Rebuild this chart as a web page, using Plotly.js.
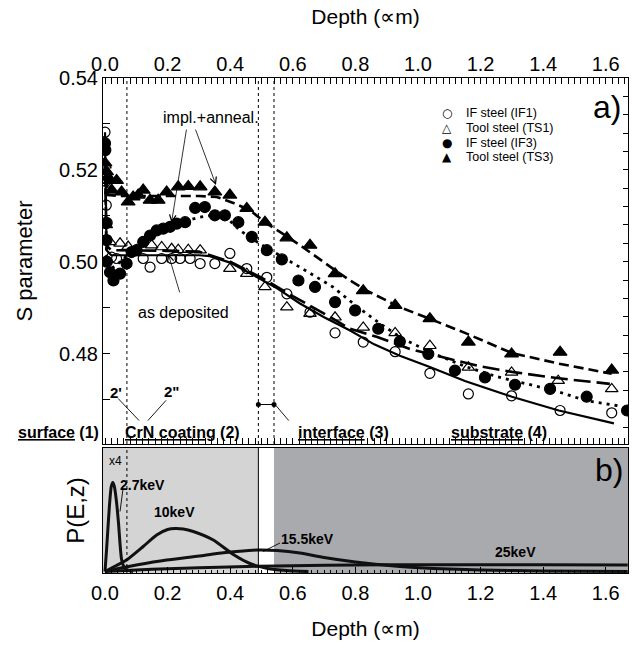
<!DOCTYPE html>
<html><head><meta charset="utf-8">
<script src="https://cdn.plot.ly/plotly-3.0.1.min.js"></script>
<style>html,body{margin:0;padding:0;background:#fff}#chart{width:634px;height:651px}</style>
</head><body><div id="chart"></div>
<script>
// ---------- data: S parameter (top panel) ----------
const depthIF1 = [0,0.002,0.004,0.007,0.021,0.037,0.122,0.144,0.181,0.213,0.240,0.272,0.304,0.351,0.399,0.453,0.517,0.581,0.655,0.735,0.825,0.927,1.038,1.161,1.299,1.454,1.619];
const sIF1     = [0.5282,0.5175,0.5123,0.5085,0.5010,0.5007,0.5007,0.4988,0.5007,0.5007,0.5007,0.5007,0.4996,0.4996,0.5018,0.4985,0.4966,0.4930,0.4890,0.4845,0.4825,0.4804,0.4757,0.4712,0.4708,0.4676,0.4671];

const depthTS1 = [0,0.004,0.016,0.048,0.074,0.149,0.181,0.213,0.234,0.266,0.304,0.399,0.453,0.511,0.581,0.655,0.735,0.825,0.927,1.038,1.161,1.299,1.448,1.619];
const sTS1     = [0.5210,0.5080,0.5043,0.5040,0.5033,0.5036,0.5032,0.5028,0.5026,0.5026,0.5025,0.4985,0.4974,0.4945,0.4901,0.4887,0.4879,0.4857,0.4845,0.4817,0.4770,0.4759,0.4741,0.4723];

const depthIF3 = [0,0.001,0.003,0.005,0.006,0.016,0.027,0.048,0.069,0.085,0.101,0.122,0.144,0.165,0.186,0.208,0.229,0.256,0.288,0.319,0.351,0.383,0.426,0.469,0.517,0.565,0.618,0.671,0.735,0.799,0.873,0.942,1.033,1.118,1.214,1.310,1.422,1.539,1.668];
const sIF3     = [0.5258,0.5243,0.5084,0.5047,0.5000,0.4977,0.4959,0.4974,0.4996,0.5021,0.5025,0.5043,0.5057,0.5068,0.5072,0.5076,0.5083,0.5086,0.5117,0.5119,0.5101,0.5101,0.5086,0.5054,0.5025,0.5005,0.4959,0.4945,0.4912,0.4894,0.4854,0.4826,0.4799,0.4763,0.4748,0.4732,0.4723,0.4706,0.4676];

const depthTS3 = [0,0.005,0.010,0.016,0.021,0.037,0.053,0.074,0.090,0.106,0.122,0.144,0.170,0.197,0.234,0.266,0.304,0.351,0.399,0.453,0.511,0.581,0.655,0.735,0.825,0.927,1.038,1.161,1.299,1.454,1.619];
const sTS3     = [0.5215,0.5196,0.5184,0.5177,0.5156,0.5177,0.5152,0.5130,0.5141,0.5145,0.5156,0.5134,0.5134,0.5152,0.5163,0.5164,0.5163,0.5152,0.5145,0.5116,0.5086,0.5052,0.5036,0.4974,0.4937,0.4905,0.4876,0.4825,0.4799,0.4803,0.4764];

// fitted curves
const fitDepthIF1 = [0,0.005,0.02,0.1,0.2,0.3,0.335,0.4,0.463,0.55,0.623,0.7,0.783,0.86,0.942,1.04,1.15,1.3,1.45,1.626];
const fitIF1      = [0.5282,0.5025,0.5014,0.5014,0.5014,0.5014,0.5012,0.4998,0.4975,0.4942,0.4909,0.4879,0.4850,0.4820,0.4795,0.4770,0.4740,0.4706,0.4676,0.4648];
const fitDepthTS1 = [0,0.005,0.02,0.1,0.2,0.3,0.4,0.5,0.6,0.7,0.783,0.87,0.974,1.102,1.2,1.3,1.45,1.613];
const fitTS1      = [0.5210,0.5035,0.5025,0.5025,0.5024,0.5022,0.5000,0.4965,0.4925,0.4887,0.4854,0.4836,0.4810,0.4788,0.4772,0.4760,0.4746,0.4734];
const fitDepthIF3 = [0,0.005,0.02,0.05,0.1,0.15,0.2,0.25,0.304,0.35,0.39,0.431,0.495,0.569,0.65,0.728,0.8,0.879,0.952,1.05,1.15,1.25,1.35,1.438,1.539,1.65];
const fitIF3      = [0.5258,0.4995,0.4985,0.5000,0.5035,0.5058,0.5075,0.5088,0.5097,0.5102,0.5095,0.5068,0.5039,0.5010,0.4977,0.4945,0.4905,0.4865,0.4832,0.4800,0.4772,0.4750,0.4733,0.4719,0.4697,0.4685];
const fitDepthTS3 = [0,0.01,0.05,0.1,0.2,0.3,0.357,0.41,0.463,0.517,0.57,0.623,0.728,0.783,0.836,0.942,1.04,1.15,1.3,1.45,1.619];
const fitTS3      = [0.5215,0.5145,0.5143,0.5143,0.5143,0.5143,0.5141,0.5128,0.5112,0.5083,0.5060,0.5036,0.4985,0.4959,0.4937,0.4901,0.4875,0.4845,0.4801,0.4778,0.4756];

// series names and legend glyphs
const seriesNames   = ['IF steel (IF1)', 'Tool steel (TS1)', 'IF steel (IF3)', 'Tool steel (TS3)'];
const seriesGlyphs  = ['○', '△', '●', '▲'];

// layer boundaries (µm)
const layerEdges = [0.07, 0.49, 0.54];
const interfaceMarkS = [0.4689, 0.4689];

// ---------- data: implantation profiles (bottom panel, arb. units) ----------
const profDepth27 = [0,0.005,0.014,0.02,0.025,0.03,0.037,0.043,0.053,0.062,0.075,0.09];
const prof27      = [0,22,65,85,89,85,69,49,12,4,1,0];
const profDepth10 = [0,0.03,0.069,0.122,0.165,0.2,0.224,0.25,0.282,0.346,0.41,0.463,0.52,0.58,0.65];
const prof10      = [0,5,11.5,25,36.5,42,43,42.5,40,31.5,17,8,3,1,0];
const profDepth155 = [0,0.05,0.1,0.197,0.3,0.357,0.42,0.485,0.55,0.623,0.7,0.8,0.942,1.05,1.2,1.4,1.67];
const prof155      = [0,3.5,6.5,11.5,15.5,18,20,21.5,21,18.5,14,9.5,5,3,1.5,0.5,0];
const profDepth25 = [0,0.1,0.2,0.3,0.49,0.6,0.8,1.0,1.2,1.4,1.67];
const prof25      = [0,1.5,2.8,3.8,5.2,5.8,6.5,6.8,6.8,6.7,6.5];

const xRange = [-0.0064, 1.671];
const FONT = 'Liberation Sans, Arial, Helvetica, sans-serif';
const SYMFONT = 'DejaVu Sans, sans-serif';

const lineT = (x, y, dash, w) => ({x, y, type:'scatter', mode:'lines', xaxis:'x', yaxis:'y', showlegend:false, hoverinfo:'skip', line:{color:'#000', width:w, dash}});
const markT = (x, y, name, symbol, size) => ({x, y, name, type:'scatter', mode:'markers', xaxis:'x', yaxis:'y', showlegend:false, marker:{symbol, size, color:'#000', line:{color:'#000', width:1.2}}});
const profT = (x, y) => ({x, y, type:'scatter', mode:'lines', xaxis:'x2', yaxis:'y2', showlegend:false, line:{color:'#111', width:3, shape:'spline', smoothing:0.6}});

const traces = [
  lineT(fitDepthIF1, fitIF1, 'solid', 2.2),
  lineT(fitDepthTS1, fitTS1, '17px,6px', 2.6),
  lineT(fitDepthIF3, fitIF3, '3px,5px', 2.8),
  lineT(fitDepthTS3, fitTS3, '10px,5px', 2.6),
  markT(depthIF1, sIF1, seriesNames[0], 'circle-open', 10),
  markT(depthTS1, sTS1, seriesNames[1], 'triangle-up-open', 11),
  markT(depthIF3, sIF3, seriesNames[2], 'circle', 11),
  markT(depthTS3, sTS3, seriesNames[3], 'triangle-up', 12),
  {x: layerEdges.slice(1), y: interfaceMarkS, type:'scatter', mode:'lines+markers', xaxis:'x', yaxis:'y', showlegend:false,
   line:{color:'#000', width:1}, marker:{size:5, color:'#000'}},
  {x: [], y: [], type:'scatter', xaxis:'x', yaxis:'y3', showlegend:false},
  profT(profDepth25, prof25),
  profT(profDepth155, prof155),
  profT(profDepth10, prof10),
  profT(profDepth27, prof27)
];

const vline = (x, xref, yref, dash) => ({type:'line', xref, yref, x0:x, x1:x, y0:0, y1:1, line:{color:'#000', width:1, dash}});
const seg = (x0, y0, x1, y1, xref, yref) => ({type:'line', xref, yref, x0, y0, x1, y1, line:{color:'#000', width:0.9}});

const shapes = [
  {type:'rect', xref:'x2', yref:'y2 domain', x0:xRange[0], x1:layerEdges[1], y0:0, y1:1, fillcolor:'#d4d4d4', line:{width:0}, layer:'below'},
  {type:'rect', xref:'x2', yref:'y2 domain', x0:layerEdges[2], x1:xRange[1], y0:0, y1:1, fillcolor:'#a9aaad', line:{width:0}, layer:'below'},
  vline(layerEdges[1], 'x2', 'y2 domain', 'solid'),
  vline(layerEdges[0], 'x2', 'y2 domain', 'dot'),
  vline(layerEdges[0], 'x', 'y domain', 'dot'),
  vline(layerEdges[1], 'x', 'y domain', 'dot'),
  vline(layerEdges[2], 'x', 'y domain', 'dot'),
  seg(0.042, 0.4702, 0.109, 0.4654, 'x', 'y'),
  seg(0.195, 0.4698, 0.137, 0.4654, 'x', 'y'),
  seg(0.546, 0.4687, 0.587, 0.4654, 'x', 'y'),
  seg(0.057, 81.5, 0.048, 60, 'x2', 'y2'),
  seg(0.559, 28.5, 0.505, 20, 'x2', 'y2')
];

const txt = (x, y, text, size, opts={}) => Object.assign({x, y, xref:'x', yref:'y', text, showarrow:false, font:{family:FONT, size, color:'#000'}}, opts);
const arrow = (x, y, ax, ay) => ({x, y, ax, ay, xref:'x', yref:'y', axref:'x', ayref:'y', text:'', showarrow:true, arrowhead:5, arrowsize:1.6, arrowwidth:0.8, arrowcolor:'#000'});

const labelS = 0.4628;
const annotations = [
  txt(0.339, 0.5315, 'impl.+anneal.', 16),
  arrow(0.2125, 0.5085, 0.261, 0.5291),
  arrow(0.3546, 0.5167, 0.2875, 0.5291),
  txt(0.251, 0.4890, 'as deposited', 16),
  arrow(0.202, 0.5017, 0.240, 0.4930),
  txt(0.035, 0.4715, "<b>2'</b>", 15),
  txt(0.214, 0.4717, '<b>2"</b>', 15),
  txt(-0.003, labelS, '<b><u>surface</u> (1)</b>', 16, {xref:'paper', xanchor:'right'}),
  txt(0.249, labelS, '<b><u>CrN coating</u> (2)</b>', 16),
  txt(0.762, labelS, '<b><u>interface</u> (3)</b>', 16),
  txt(1.259, labelS, '<b><u>substrate</u> (4)</b>', 16),
  txt(1.603, 0.5337, 'a)', 32),
  txt(0.006, 110.5, 'x4', 12, {xref:'x2', yref:'y2', xanchor:'left'}),
  txt(0.042, 86.5, '<b>2.7keV</b>', 14, {xref:'x2', yref:'y2', xanchor:'left'}),
  txt(0.221, 60, '<b>10keV</b>', 14, {xref:'x2', yref:'y2'}),
  txt(0.647, 33, '<b>15.5keV</b>', 14, {xref:'x2', yref:'y2'}),
  txt(1.31, 20, '<b>25keV</b>', 14, {xref:'x2', yref:'y2'}),
  txt(1.61, 101.5, 'b)', 32, {xref:'x2', yref:'y2'})
];

// manual legend (glyph + label), rows ~14.7 px apart
const legendRowsY = [0.9287, 0.8990, 0.8693, 0.8398];
seriesNames.forEach((name, i) => {
  annotations.push({xref:'paper', yref:'paper', x:0.6552, y:legendRowsY[i], text:seriesGlyphs[i], showarrow:false,
    xanchor:'center', yanchor:'middle', borderpad:0, font:{family:SYMFONT, size:12, color:'#000'}});
  annotations.push({xref:'paper', yref:'paper', x:0.6895, y:legendRowsY[i], text:name, showarrow:false,
    xanchor:'left', yanchor:'middle', borderpad:0, font:{family:FONT, size:12.5, color:'#000'}});
});

const axCommon = {showgrid:false, zeroline:false, showline:true, linecolor:'#000', linewidth:1, tickcolor:'#000'};

const layout = {
  width:634, height:651,
  margin:{l:103, r:6, t:78, b:78, pad:0},
  paper_bgcolor:'#fff', plot_bgcolor:'#fff',
  font:{family:FONT, color:'#000'},
  showlegend:false,
  xaxis: Object.assign({}, axCommon, {domain:[0,1], anchor:'y', side:'top', range:xRange, dtick:0.2, tick0:0, tickformat:'.1f',
    ticks:'inside', ticklen:6, mirror:'allticks', minor:{dtick:0.02, ticklen:3, ticks:'inside', tickcolor:'#000'},
    ticklabelstandoff:-2,
    tickfont:{size:20}, title:{text:'Depth (∝m)', font:{size:21}, standoff:22}}),
  yaxis: Object.assign({}, axCommon, {domain:[0.2606,1], anchor:'x', range:[0.4603,0.54], dtick:0.02, tick0:0.48, tickformat:'.2f',
    ticks:'inside', ticklen:7, mirror:true, minor:{dtick:0.01, ticklen:7, ticks:'inside', tickcolor:'#000'},
    tickfont:{size:20}, title:{text:'S parameter', font:{size:22}, standoff:20}}),
  yaxis3: {overlaying:'y', side:'right', anchor:'x', range:[0.4603,0.54], dtick:0.004, tick0:0.48, ticks:'inside', ticklen:5,
    tickcolor:'#000', showticklabels:false, showline:false, showgrid:false, zeroline:false},
  xaxis2: Object.assign({}, axCommon, {domain:[0,1], anchor:'y2', range:xRange, dtick:0.2, tick0:0, tickformat:'.1f',
    ticks:'inside', ticklen:6, mirror:true, minor:{dtick:0.02, ticklen:3, ticks:'inside', tickcolor:'#000'},
    ticklabelstandoff:2,
    tickfont:{size:20}, title:{text:'Depth (∝m)', font:{size:21}, standoff:18}}),
  yaxis2: Object.assign({}, axCommon, {domain:[0,0.2525], anchor:'x2', range:[-1.5,123.5], showticklabels:false, ticks:'',
    mirror:true, title:{text:'P(E,z)', font:{size:24}, standoff:10}}),
  shapes, annotations
};

Plotly.newPlot('chart', traces, layout, {staticPlot:true, displayModeBar:false});
</script></body></html>
